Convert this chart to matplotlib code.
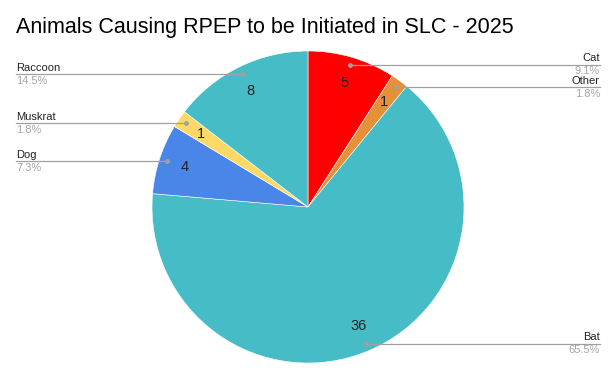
import numpy as np
import matplotlib.pyplot as plt

# данные
animals = ['Cat', 'Other', 'Bat', 'Dog', 'Muskrat', 'Raccoon']
counts = [5, 1, 36, 4, 1, 8]
colors = ['#FF0000', '#E69138', '#46BDC6', '#4A86E8', '#FFD966', '#46BDC6']

W, H = 616, 381
fig = plt.figure(figsize=(W / 100, H / 100), dpi=100)
ax = fig.add_axes([0, 0, 1, 1])

cx, cy, R = 308, H - 207, 156

wedges, texts, autotexts = ax.pie(
    counts,
    colors=colors,
    startangle=90,
    counterclock=False,
    center=(cx, cy),
    radius=R,
    autopct=lambda p: '%d' % round(p * sum(counts) / 100),
    pctdistance=0.83,
    wedgeprops={'edgecolor': 'white', 'linewidth': 0.4},
    textprops={'fontsize': 10.5, 'color': '#222222', 'family': 'Liberation Sans'},
    frame=True,
)
ax.set_xlim(0, W)
ax.set_ylim(0, H)
ax.set_aspect('equal')
ax.axis('off')

total = sum(counts)
for w, name, n in zip(wedges, animals, counts):
    ang = np.deg2rad((w.theta1 + w.theta2) / 2)
    px = cx + 0.95 * R * np.cos(ang)
    py = cy + 0.95 * R * np.sin(ang)
    pct = '%.1f%%' % (100 * n / total)
    if px < cx:
        x_end, ha = 16, 'left'
    else:
        x_end, ha = 600, 'right'
    ax.plot([px, x_end], [py, py], color='#a0a0a0', lw=0.9, zorder=5)
    ax.plot(px, py, 'o', color='#a0a0a0', ms=2.5, zorder=6)
    ax.text(x_end, py + 1.5, name, ha=ha, va='bottom', fontsize=8,
            family='Liberation Sans', color='#222222')
    ax.text(x_end, py - 1.5, pct, ha=ha, va='top', fontsize=8,
            family='Liberation Sans', color='#a6a6a6')

fig.text(16 / W, 1 - 27 / H, 'Animals Causing RPEP to be Initiated in SLC - 2025',
         ha='left', va='center', fontsize=15.5, family='Liberation Sans', color='#000000')

fig.savefig('out.png', dpi=100)
